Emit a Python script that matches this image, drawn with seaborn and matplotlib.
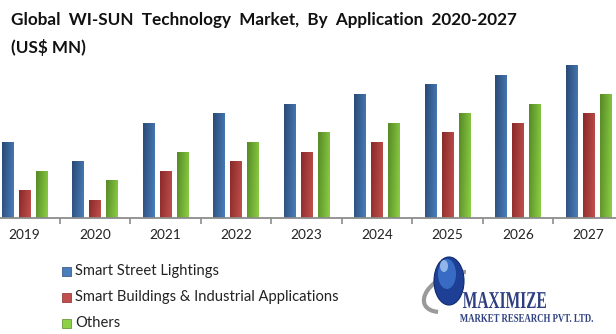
import numpy as np
import pandas as pd
import matplotlib
matplotlib.use("Agg")
import matplotlib.pyplot as plt
import seaborn as sns
from matplotlib.patches import Rectangle, PathPatch, Ellipse, Arc
from matplotlib.textpath import TextPath
from matplotlib.font_manager import FontProperties
from matplotlib.transforms import Affine2D
from matplotlib.colors import to_rgb

# ---------------- data ----------------
years = ["2019", "2020", "2021", "2022", "2023", "2024", "2025", "2026", "2027"]
series_names = ["Smart Street Lightings",
                "Smart Buildings & Industrial Applications",
                "Others"]
street_lighting = [76, 57, 95, 105, 114, 124, 134, 143, 153]
buildings_industrial = [28, 18, 47, 57, 66, 76, 86, 95, 105]
others = [47, 38, 66, 76, 86, 95, 105, 114, 124]

title_line1 = "Global  WI-SUN  Technology  Market,  By  Application  2020-2027"
title_line2 = "(US$ MN)"

# ---------------- styling ----------------
base_colors = ["#4a7ebb", "#c0504d", "#8dcf45"]
dark_colors = ["#2a4a76", "#8a2a29", "#568a26"]

df = pd.DataFrame({
    "year": years * 3,
    "value": street_lighting + buildings_industrial + others,
    "series": [series_names[0]] * len(years) + [series_names[1]] * len(years)
              + [series_names[2]] * len(years),
})

sns.set_theme(style="white")
plt.rcParams["font.family"] = ["Lato", "DejaVu Sans"]

W, H = 616, 334
fig = plt.figure(figsize=(W / 100, H / 100), dpi=100)
fig.patch.set_facecolor("white")

# main axes: baseline at y=218 px, top at y=60 px
ax = fig.add_axes([0, (H - 218) / H, 1, (218 - 60) / H])
sns.barplot(data=df, x="year", y="value", hue="series", hue_order=series_names,
            palette=base_colors, width=0.723, gap=0.35, legend=False,
            saturation=1, ax=ax)

xl = (-24.5 / 70.5, (W - 24.5) / 70.5)
yl = (0, 158)

# gradient fill for bars
for ci, cont in enumerate(ax.containers):
    c0 = np.array(to_rgb(dark_colors[ci]))
    c1 = np.array(to_rgb(base_colors[ci]))
    nx, ny = 24, 24
    tx = np.linspace(0, 1, nx)[None, :]
    ty = np.linspace(0, 1, ny)[:, None]
    t = np.clip(0.8 * tx + 0.2 * ty, 0, 1)
    img = c0[None, None, :] * (1 - t[..., None]) + c1[None, None, :] * t[..., None]
    for p in cont.patches:
        x0, y0 = p.get_x(), p.get_y()
        w, h = p.get_width(), p.get_height()
        im = ax.imshow(img, extent=(x0, x0 + w, y0, y0 + h), origin="upper",
                       aspect="auto", zorder=p.get_zorder() + 0.1,
                       interpolation="bilinear")
        im.set_clip_path(p)

ax.set_xlim(*xl)
ax.set_ylim(*yl)
ax.set_xlabel("")
ax.set_ylabel("")
ax.set_yticks([])
for s in ["top", "right", "left"]:
    ax.spines[s].set_visible(False)
ax.spines["bottom"].set_color("#8c8c8c")
ax.spines["bottom"].set_linewidth(1.3)
ax.set_xticks(range(len(years)))
ax.set_xticklabels(years)
ax.set_xticks([i + 0.5 for i in range(len(years) - 1)], minor=True)
ax.tick_params(axis="x", which="major", length=0, pad=8, labelsize=9.8,
               labelcolor="#222222")
ax.tick_params(axis="x", which="minor", length=4, width=1.2, color="#8c8c8c",
               direction="out", bottom=True)
ax.patch.set_alpha(0)

# overlay axes in pixel coords for title / legend / logo
ov = fig.add_axes([0, 0, 1, 1], zorder=-1)
ov.set_xlim(0, W)
ov.set_ylim(H, 0)
ov.axis("off")

ov.text(11, 20, title_line1, fontsize=12.3, fontweight="bold", color="#111111",
        va="center", ha="left")
ov.text(11, 47, title_line2, fontsize=12.3, fontweight="bold", color="#111111",
        va="center", ha="left")

# legend
for i, name in enumerate(series_names):
    yc = 271 + 26 * i
    ov.add_patch(Rectangle((62, yc - 4.5), 9, 9, facecolor=base_colors[i],
                           edgecolor=dark_colors[i], linewidth=0.5))
    ov.text(75, yc, name, fontsize=10.6, color="#222222", va="center", ha="left")

# logo
ov.add_patch(Arc((452, 292), 60, 34, angle=-25, theta1=150, theta2=330,
                 color="#9a9a9a", linewidth=3))
ov.add_patch(Ellipse((449, 281), 30, 48, facecolor="#1d3f95", edgecolor="#0f2a6e",
                     linewidth=0.8))
ov.add_patch(Ellipse((447, 274), 18, 30, facecolor="#3f78d0", edgecolor="none",
                     alpha=0.8))
ov.add_patch(Ellipse((444, 266), 8, 12, facecolor="#a9c8f2", edgecolor="none",
                     alpha=0.8))


def stretched_text(s, x0, x1, ybase, ytop, color, prop):
    tp = TextPath((0, 0), s, size=10, prop=prop)
    bb = tp.get_extents()
    sx = (x1 - x0) / bb.width
    sy = (ybase - ytop) / bb.height
    tr = Affine2D().translate(-bb.x0, -bb.y0).scale(sx, -sy).translate(x0, ybase)
    ov.add_patch(PathPatch(tr.transform_path(tp), facecolor=color, edgecolor="none"))


serif_b = FontProperties(family="Liberation Serif", weight="bold")
stretched_text("MAXIMIZE", 463, 546, 308, 292, "#2e3f80", serif_b)
stretched_text("MARKET RESEARCH PVT. LTD.", 460, 593, 322, 314, "#2e3f80", serif_b)

fig.savefig("out.png", dpi=100, facecolor="white")
